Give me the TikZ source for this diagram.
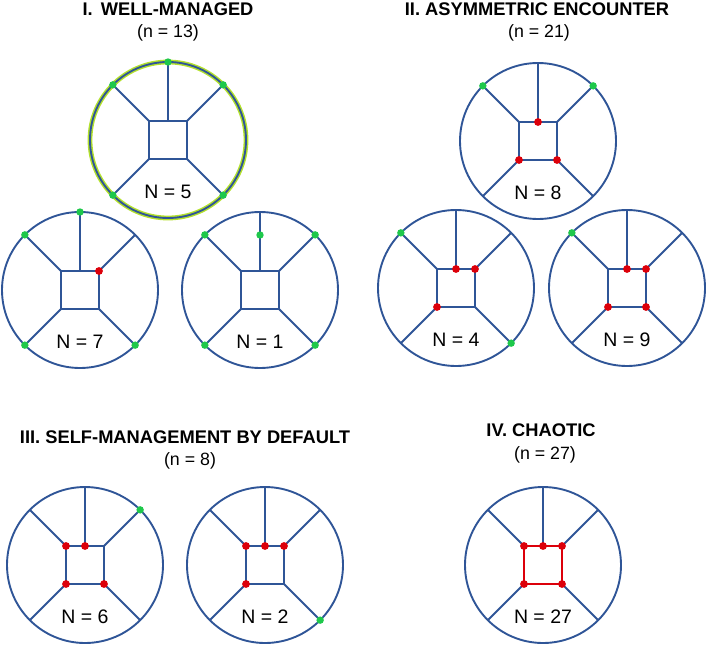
\documentclass[tikz,border=0pt]{standalone}
\usepackage{fontspec}
\setmainfont{Liberation Sans}
\definecolor{wblue}{RGB}{47,85,151}
\definecolor{dgreen}{RGB}{30,200,75}
\definecolor{dred}{RGB}{220,0,10}
\definecolor{halocol}{RGB}{180,225,45}
\tikzset{
  wline/.style={draw=wblue,line width=1.9pt},
  redsq/.style={draw=dred,line width=2.2pt},
  haloline/.style={draw=halocol,line width=4.8pt},
  gdot/.style={fill=dgreen},
  rdot/.style={fill=dred},
  ttl/.style={font=\fontsize{18.3}{21}\selectfont\bfseries,anchor=base,inner sep=0pt},
  subt/.style={font=\fontsize{17.8}{21}\selectfont,anchor=base,inner sep=0pt},
  nlab/.style={font=\fontsize{19.5}{22}\selectfont,anchor=base,inner sep=0pt},
}
\newcommand\wheel[4]{%
  \begin{scope}[shift={(#2,#3)}]
    \coordinate (#1) at (0,0);
    \coordinate (#1-T) at (0,-78);
    \coordinate (#1-NW) at (-55.15,-55.15);
    \coordinate (#1-NE) at (55.15,-55.15);
    \coordinate (#1-SW) at (-55.15,55.15);
    \coordinate (#1-SE) at (55.15,55.15);
    \coordinate (#1-t) at (0,-19);
    \coordinate (#1-m) at (0,-55);
    \coordinate (#1-nw) at (-19,-19);
    \coordinate (#1-ne) at (19,-19);
    \coordinate (#1-sw) at (-19,19);
    \coordinate (#1-se) at (19,19);
    \draw[wline] (#1) circle[radius=78];
    \draw[wline] (#1-nw) rectangle (#1-se);
    \draw[wline] (#1-T) -- (#1-t);
    \draw[wline] (#1-NW) -- (#1-nw);
    \draw[wline] (#1-NE) -- (#1-ne);
    \draw[wline] (#1-SW) -- (#1-sw);
    \draw[wline] (#1-SE) -- (#1-se);
    \node[nlab] (#1-lab) at (0,58) {#4};
  \end{scope}}
\newcommand\gd[1]{\fill[gdot] (#1) circle[radius=3.7];}
\newcommand\rd[1]{\fill[rdot] (#1) circle[radius=3.9];}
\begin{document}
\begin{tikzpicture}[x=1pt,y=-1pt]
  \useasboundingbox (0,0) rectangle (708,645);
  % titles
  \node[ttl] (t1) at (168,16) {I.\hspace{0.45em}WELL-MANAGED};
  \node[subt] (s1) at (168,37.5) {(n = 13)};
  \node[ttl] (t2) at (537,15.5) {II. ASYMMETRIC ENCOUNTER};
  \node[subt] (s2) at (539,37.5) {(n = 21)};
  \node[ttl] (t3) at (185,443) {III. SELF-MANAGEMENT BY DEFAULT};
  \node[subt] (s3) at (190,465) {(n = 8)};
  \node[ttl] (t4) at (541,436) {IV. CHAOTIC};
  \node[subt] (s4) at (545,459) {(n = 27)};
  % I
  \draw[haloline] (168,140) circle[radius=78];
  \wheel{a}{168}{140}{N = 5}
  \gd{a-T}\gd{a-NW}\gd{a-NE}\gd{a-SW}\gd{a-SE}
  \wheel{b}{80}{290}{N = 7}
  \gd{b-T}\gd{b-NW}\gd{b-SW}\gd{b-SE}\rd{b-ne}
  \wheel{c}{260}{290}{N = 1}
  \gd{c-m}\gd{c-NW}\gd{c-NE}\gd{c-SW}\gd{c-SE}
  % II
  \wheel{d}{538}{141}{N = 8}
  \gd{d-NW}\gd{d-NE}\rd{d-t}\rd{d-sw}\rd{d-se}
  \wheel{e}{456}{288}{N = 4}
  \gd{e-NW}\gd{e-SE}\rd{e-t}\rd{e-ne}\rd{e-sw}
  \wheel{f}{627}{288}{N = 9}
  \gd{f-NW}\rd{f-t}\rd{f-ne}\rd{f-sw}\rd{f-se}
  % III
  \wheel{g}{85}{565}{N = 6}
  \gd{g-NE}\rd{g-nw}\rd{g-t}\rd{g-sw}\rd{g-se}
  \wheel{h}{265}{565}{N = 2}
  \gd{h-SE}\rd{h-nw}\rd{h-t}\rd{h-ne}\rd{h-sw}
  % IV
  \wheel{k}{543}{565}{N = 27}
  \draw[redsq] (k-nw) rectangle (k-se);
  \rd{k-nw}\rd{k-t}\rd{k-ne}\rd{k-sw}\rd{k-se}
\end{tikzpicture}
\end{document}
